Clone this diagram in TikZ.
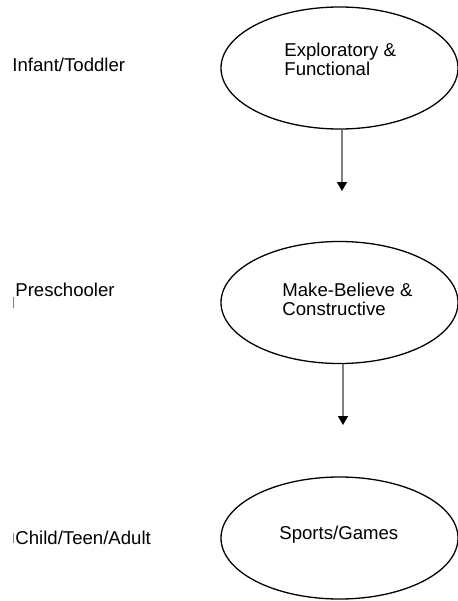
\documentclass[tikz,border=0pt]{standalone}
\usepackage{fontspec}
\setmainfont{Liberation Sans}
\usetikzlibrary{shapes.geometric,arrows.meta}
\tikzset{stage/.style={draw,shape=ellipse,minimum width=118.5pt,minimum height=61pt,inner sep=0pt,line width=.65pt},
	agetext/.style={anchor=base west,inner sep=0pt,font=\fontsize{9.3}{9.5}\selectfont},
	playtext/.style={anchor=base west,inner sep=0pt,align=left,font=\fontsize{9.3}{9.5}\selectfont},
	nextstage/.style={draw=gray,line width=.8pt,-{Triangle[length=4.5pt,width=5pt,black]}}}

\begin{document}
\begin{tikzpicture}[x=0.5pt,y=-0.5pt]
\useasboundingbox (0,0) rectangle (457,601);

\node[stage] (play1) at (339.5,68) {};
\node[stage] (play2) at (339.5,302.5) {};
\node[stage] (play3) at (339.5,538) {};

% base of a two-line node is its last line
\node[playtext] (txt1) at (284,75) {Exploratory \&\\Functional};
\node[playtext] (txt2) at (282,315.7) {Make-Believe \&\\Constructive};
\node[playtext] (txt3) at (279,539) {Sports/Games};

\node[agetext] (age1) at (12,71) {Infant/Toddler};
\node[agetext] (age2) at (15,296.7) {Preschooler};
\node[agetext] (age3) at (15,544) {Child/Teen/Adult};

% stray marks
\draw[gray,line width=.3pt] (13.3,297) -- (13.3,308);
\draw[gray,line width=.3pt] (13.5,533) -- (13.5,543);

\coordinate (end1) at (342,191);
\coordinate (end2) at (343,425);
\draw[nextstage] (play1.south -| end1) -- (end1);
\draw[nextstage] (play2.south -| end2) -- (end2);

\end{tikzpicture}
\end{document}
